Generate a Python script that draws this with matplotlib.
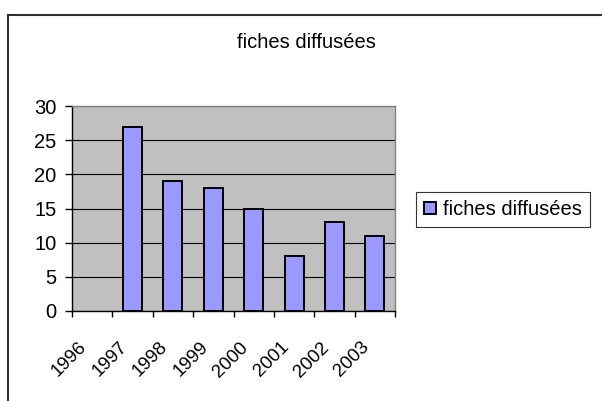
import matplotlib
matplotlib.use("Agg")
import matplotlib.pyplot as plt
import matplotlib.transforms as mtransforms
from matplotlib.lines import Line2D
from matplotlib.patches import Patch

plt.rcParams['font.family'] = ['Liberation Sans', 'DejaVu Sans']

years = ["1996", "1997", "1998", "1999", "2000", "2001", "2002", "2003"]
fiches = [None, 27, 19, 18, 15, 8, 13, 11]  # no value for 1996
series_name = "fiches diffusées"

W, H = 602, 401
FS = 14.5
fig = plt.figure(figsize=(W / 100, H / 100), dpi=100)

# excel chart border (cropped: only left and top visible)
fig.add_artist(Line2D([8 / W, 8 / W], [0, 1 - 15 / H], color="#303030", lw=1.5, transform=fig.transFigure))
fig.add_artist(Line2D([8 / W, 1], [1 - 15 / H, 1 - 15 / H], color="#303030", lw=1.5, transform=fig.transFigure))

ax = fig.add_axes([72 / W, 1 - 311 / H, (395 - 72) / W, (311 - 106) / H])
ax.set_facecolor("#C0C0C0")

x = list(range(len(years)))
bx = [i for i, v in zip(x, fiches) if v is not None]
bv = [v for v in fiches if v is not None]
ax.bar(bx, bv, width=0.47, color="#9999FF", edgecolor="black", linewidth=1.4, zorder=3)

ax.set_xlim(-0.5, len(years) - 0.5)
ax.set_ylim(0, 30)
ax.set_yticks(range(0, 31, 5))
ax.yaxis.grid(True, color="black", lw=0.8, zorder=1)
ax.set_axisbelow(True)

ax.set_xticks(x)
ax.set_xticklabels(years, rotation=45, ha="right", va="top", rotation_mode="anchor")
ax.set_xticks([i - 0.5 for i in range(len(years) + 1)], minor=True)
ax.tick_params(axis="x", which="major", length=0, pad=17, labelsize=13.5)
ax.tick_params(axis="x", which="minor", length=4, width=1, color="black")
ax.tick_params(axis="y", length=5, width=1, pad=6, labelsize=FS)

shift = mtransforms.ScaledTranslation(-14 / 100, -4 / 100, fig.dpi_scale_trans)
for lab in ax.get_xticklabels():
    lab.set_transform(lab.get_transform() + shift)

for s in ["left", "bottom"]:
    ax.spines[s].set_color("black")
    ax.spines[s].set_linewidth(1)
for s in ["top", "right"]:
    ax.spines[s].set_color("#808080")
    ax.spines[s].set_linewidth(1)

fig.text(306 / W, 1 - 42 / H, "fiches diffusées", ha="center", va="center", fontsize=FS)

handle = Patch(facecolor="#9999FF", edgecolor="black", linewidth=1.4)
leg = fig.legend([handle], [series_name], loc="center left",
                 bbox_to_anchor=(416 / W, 1 - 209.5 / H), fontsize=FS,
                 frameon=True, fancybox=False, handlelength=0.6, handleheight=0.6,
                 handletextpad=0.35, borderpad=0.4, borderaxespad=0)
leg.get_frame().set_edgecolor("black")
leg.get_frame().set_linewidth(0.8)

fig.savefig("out.png", dpi=100)
